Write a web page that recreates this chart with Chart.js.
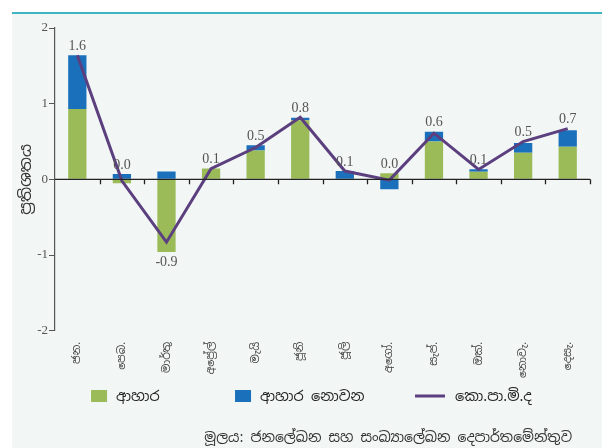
<!DOCTYPE html>
<html>
<head>
<meta charset="utf-8">
<script src="https://cdn.jsdelivr.net/npm/chart.js@4.4.1/dist/chart.umd.min.js"></script>
<style>
  html, body { margin: 0; padding: 0; background: #ffffff; }
  #panel {
    position: absolute; left: 12px; top: 12px; width: 590px; height: 434px;
    background: #f2f6f5; border-top: 2px solid #3fb5c4;
  }
  #wrap { position: absolute; left: 0; top: 0; width: 602px; height: 448px; }
</style>
</head>
<body>
<div id="panel"></div>
<div id="wrap"><canvas id="cpi-chart" width="602" height="448"></canvas></div>
<script>
const months = ['ජන.', 'පෙබ.', 'මාර්තු', 'අප්‍රේල්', 'මැයි', 'ජූනි', 'ජූලි', 'අගෝ.', 'සැප්.', 'ඔක්.', 'නොවැ.', 'දෙසැ.'];
const food = [0.93, -0.05, -0.96, 0.145, 0.38, 0.78, 0.0, 0.08, 0.5, 0.1, 0.35, 0.43];
const nonFood = [0.71, 0.07, 0.105, 0.0, 0.07, 0.035, 0.11, -0.13, 0.13, 0.035, 0.13, 0.22];
const cpi = [1.64, -0.02, -0.83, 0.14, 0.42, 0.82, 0.11, -0.01, 0.61, 0.13, 0.5, 0.67];
const cpiLabels = ['1.6', '0.0', '-0.9', '0.1', '0.5', '0.8', '0.1', '0.0', '0.6', '0.1', '0.5', '0.7'];
const yTicks = [-2, -1, 0, 1, 2];
const sourceNote = 'මූලය: ජනලේඛන සහ සංඛ්‍යාලේඛන දෙපාර්තමේන්තුව';

const SINHALA = "'Noto Sans Sinhala', 'Noto Serif Sinhala', 'Iskoola Pota', 'Noto Sans', sans-serif";
const SERIF = "'Liberation Serif', 'DejaVu Serif', serif";

const GREEN = '#9bbb59';
const BLUE = '#1b70bb';
const PURPLE = '#5b3f7f';

// zero axis line with ticks at category boundaries
const zeroAxis = {
  id: 'zeroAxis',
  afterDatasetsDraw(chart) {
    const { ctx, chartArea, scales } = chart;
    const y0 = scales.y.getPixelForValue(0);
    const step = scales.x.getPixelForValue(1) - scales.x.getPixelForValue(0);
    ctx.save();
    ctx.strokeStyle = '#222';
    ctx.lineWidth = 1.3;
    ctx.beginPath();
    ctx.moveTo(chartArea.left, y0);
    ctx.lineTo(chartArea.right, y0);
    for (let k = 0; k < months.length; k++) {
      const bx = Math.round(scales.x.getPixelForValue(k) + step / 2) + 0.5;
      ctx.moveTo(bx, y0);
      ctx.lineTo(bx, y0 + 5);
    }
    ctx.stroke();
    ctx.restore();
  }
};

// cpi value labels
const valueLabels = {
  id: 'valueLabels',
  afterDraw(chart) {
    const { ctx, scales } = chart;
    ctx.save();
    ctx.font = '14px ' + SERIF;
    ctx.fillStyle = '#555';
    ctx.textAlign = 'center';
    cpiLabels.forEach((txt, i) => {
      const x = scales.x.getPixelForValue(i);
      const pos = Math.max(0, food[i]) + Math.max(0, nonFood[i]);
      const neg = Math.min(0, food[i]) + Math.min(0, nonFood[i]);
      if (cpi[i] < -0.2) {
        const yb = Math.max(scales.y.getPixelForValue(neg), scales.y.getPixelForValue(cpi[i]));
        ctx.textBaseline = 'top';
        ctx.fillText(txt, x, yb + 3);
      } else {
        const yt = Math.min(scales.y.getPixelForValue(pos), scales.y.getPixelForValue(cpi[i]));
        ctx.textBaseline = 'bottom';
        ctx.fillText(txt, x, yt - 2);
      }
    });
    ctx.restore();
  }
};

// legend row + source note under the month labels
const legendAndNote = {
  id: 'legendAndNote',
  afterDraw(chart) {
    const { ctx, chartArea } = chart;
    const cy = chart.height - 52;
    const cols = [36, 180, 360]; // offsets from the plot's left edge
    ctx.save();
    ctx.font = '14.5px ' + SINHALA;
    ctx.textBaseline = 'middle';
    ctx.textAlign = 'left';
    chart.data.datasets.forEach((ds, i) => {
      const x = chartArea.left + cols[i];
      let tx;
      if (ds.type === 'line') {
        ctx.strokeStyle = ds.borderColor;
        ctx.lineWidth = 3;
        ctx.beginPath();
        ctx.moveTo(x, cy);
        ctx.lineTo(x + 30, cy);
        ctx.stroke();
        tx = x + 40;
      } else {
        ctx.fillStyle = ds.backgroundColor;
        ctx.fillRect(x, cy - 6, 16, 12);
        tx = x + 25;
      }
      ctx.fillStyle = '#222';
      ctx.fillText(ds.label, tx, cy + 1);
    });
    ctx.font = '14px ' + SINHALA;
    ctx.fillStyle = '#333';
    ctx.textAlign = 'right';
    ctx.textBaseline = 'middle';
    ctx.fillText(sourceNote, chartArea.right - 18, chart.height - 10);
    ctx.restore();
  }
};

const config = {
  type: 'bar',
  data: {
    labels: months,
    datasets: [
      {
        label: 'ආහාර',
        data: food,
        backgroundColor: GREEN,
        stack: 'bars',
        order: 1,
        barPercentage: 0.41,
        categoryPercentage: 1
      },
      {
        label: 'ආහාර නොවන',
        data: nonFood,
        backgroundColor: BLUE,
        stack: 'bars',
        order: 1,
        barPercentage: 0.41,
        categoryPercentage: 1
      },
      {
        type: 'line',
        label: 'කො.පා.මි.ද',
        data: cpi,
        borderColor: PURPLE,
        backgroundColor: PURPLE,
        borderWidth: 3,
        pointRadius: 0,
        tension: 0,
        stack: 'cpi',
        order: 0
      }
    ]
  },
  options: {
    responsive: false,
    animation: false,
    layout: { padding: { top: 28, left: 17, right: 12, bottom: 67 } },
    scales: {
      x: {
        stacked: true,
        grid: { display: false },
        border: { display: false },
        ticks: {
          minRotation: 90,
          maxRotation: 90,
          autoSkip: false,
          padding: 3,
          color: '#444',
          font: { family: SINHALA, size: 11 }
        }
      },
      y: {
        stacked: true,
        min: -2,
        max: 2,
        afterBuildTicks(axis) { axis.ticks = yTicks.map(v => ({ value: v })); },
        grid: { drawOnChartArea: false, tickLength: 6, color: '#555' },
        border: { color: '#555', width: 1.2 },
        ticks: { color: '#555', padding: 1, font: { family: SERIF, size: 13 } },
        title: {
          display: true,
          text: 'ප්‍රතිශතය',
          color: '#333',
          padding: { top: 0, bottom: 0 },
          font: { family: SINHALA, size: 16 }
        }
      }
    },
    plugins: {
      tooltip: { enabled: false },
      legend: { display: false }
    }
  },
  plugins: [zeroAxis, valueLabels, legendAndNote]
};

const canvas = document.getElementById('cpi-chart');
if (canvas) {
  const ctx = canvas.getContext('2d');
  window.cpiChart = new Chart(ctx, config);
}
</script>
</body>
</html>
